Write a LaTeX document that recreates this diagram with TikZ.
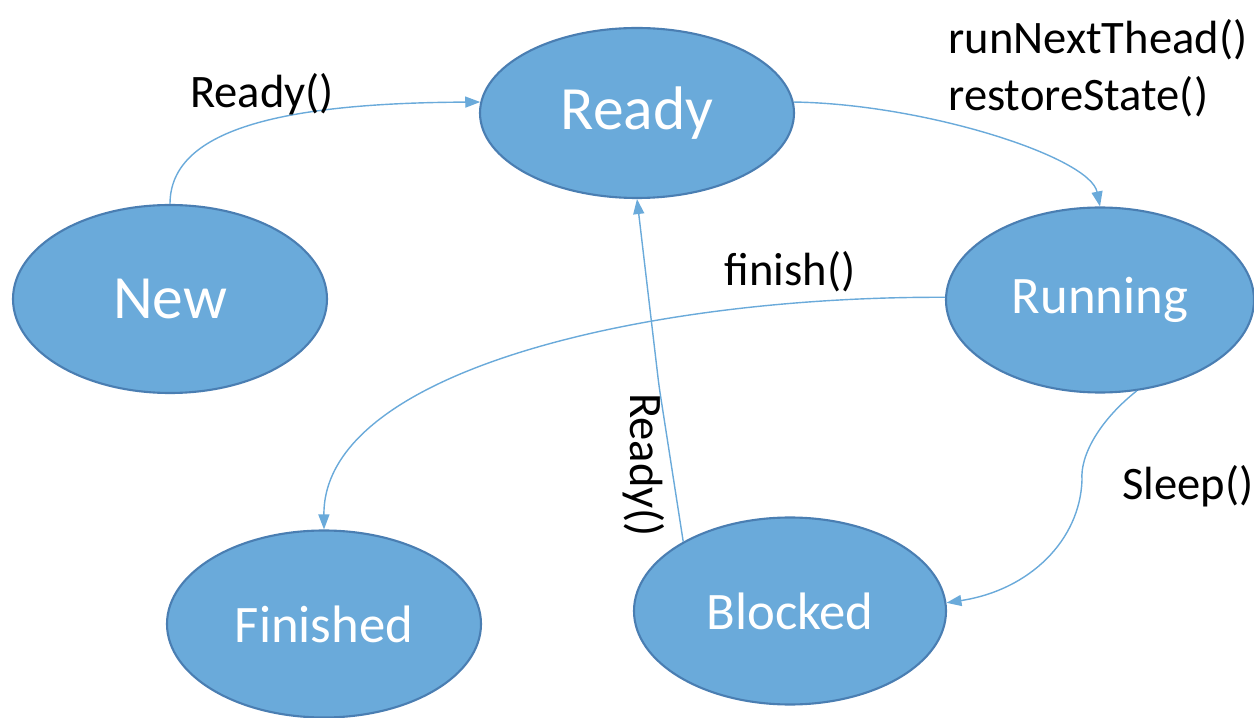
\documentclass[tikz,border=0pt]{standalone}
\usepackage{fontspec}
\setmainfont{Carlito}
\usetikzlibrary{arrows.meta, shapes.geometric}
\definecolor{stfill}{HTML}{6AAADA}
\definecolor{stdraw}{HTML}{4A7EB2}
\definecolor{arrcol}{HTML}{6AAADA}

\begin{document}
\begin{tikzpicture}[
        st/.style={ellipse, draw=stdraw, line width=1.2pt, fill=stfill,
                   text=white, inner sep=0pt, font=\fontsize{30}{34}\selectfont},
        big/.style={font=\fontsize{35}{40}\selectfont},
        arr/.style={-{Triangle[length=3mm,width=2.2mm]}, line width=0.8pt, arrcol},
        lbl/.style={font=\fontsize{26.5}{32.5}\selectfont, inner sep=0pt}]
      \useasboundingbox (0,0) rectangle (25.08,14.34);
      % states
      \node[st, big, minimum width=6.28cm, minimum height=3.4cm] (ready) at (12.74,12.08) {Ready};
      \node[st, big, minimum width=6.28cm, minimum height=3.76cm] (new) at (3.4,8.36) {New};
      \node[st, minimum width=6.16cm, minimum height=3.7cm] (running) at (22.0,8.34) {Running};
      \node[st, minimum width=6.28cm, minimum height=3.74cm] (finished) at (6.48,1.86) {Finished};
      \node[st, minimum width=6.24cm, minimum height=3.74cm] (blocked) at (15.8,2.12) {Blocked};
      % bends
      \coordinate (readybend) at (13.18,6.62);
      \coordinate (sleepbend) at (21.64,4.74);
      % transitions
      \draw[arr] (new.north) .. controls (3.4,11.74) and (5.6,12.28) .. (ready.176);
      \draw[arr] (ready.4) .. controls (18.5,12.26) and (21.8,11.2) .. (running.north);
      \draw[arr] (running.179) .. controls (13.0,8.42) and (6.46,6.94) .. (finished.north);
      \draw[arr, rounded corners=5pt] (blocked.147) -- (readybend) -- (ready.south);
      \draw[arr] (running.292) .. controls (22.0,5.94) and (21.6,5.24) .. (sleepbend)
                 .. controls (21.6,3.54) and (20.6,2.54) .. (blocked.3);
      % labels
      \node[lbl] (lnew) at (5.24,12.46) {Ready()};
      \node[lbl, anchor=west, align=left] (lrun) at (18.96,12.98) {runNextThead()\\restoreState()};
      \node[lbl] (lfin) at (15.8,8.9) {finish()};
      \node[lbl, rotate=-90] (lblk) at (12.88,5.04) {Ready()};
      \node[lbl, anchor=west] (lslp) at (22.44,4.62) {Sleep()};
    \end{tikzpicture}
\end{document}
